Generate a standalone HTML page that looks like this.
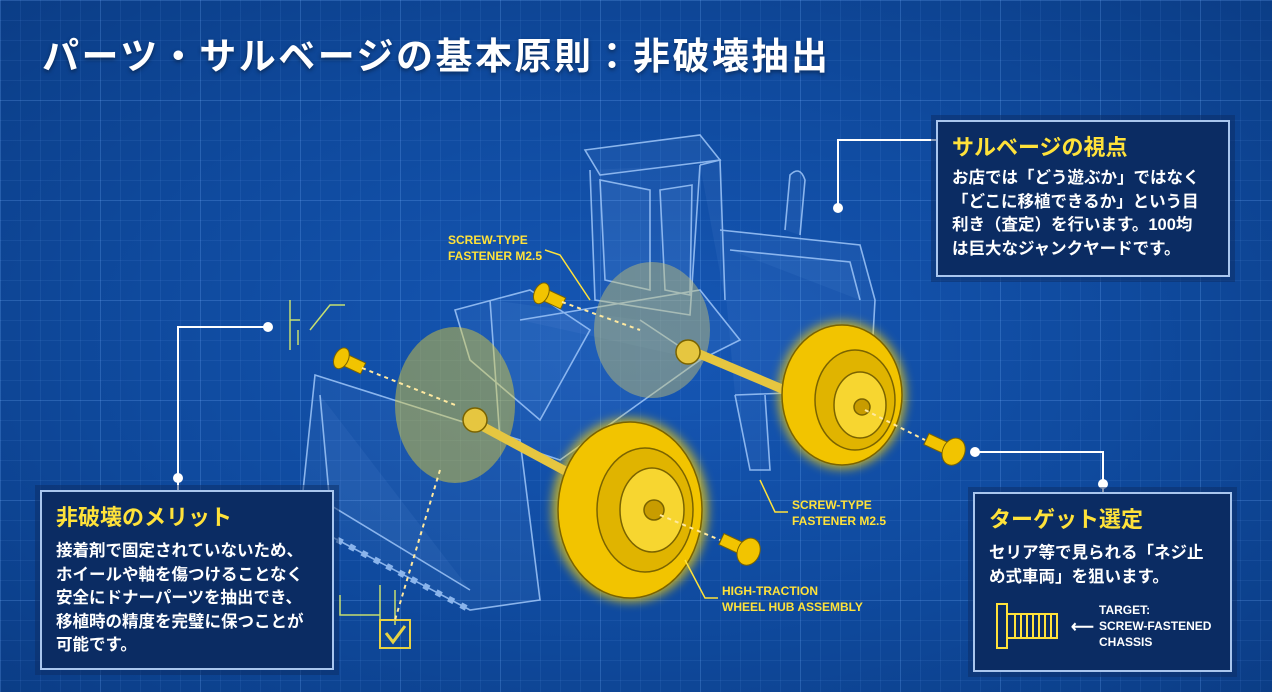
<!DOCTYPE html>
<html><head><meta charset="utf-8"><style>
body{margin:0;width:1272px;height:692px;overflow:hidden;font-family:"Liberation Sans","Noto Sans CJK JP",sans-serif;}
#bg{position:absolute;left:0;top:0;width:1272px;height:692px;
background:
linear-gradient(rgba(120,180,255,.16) 1px,transparent 1px) 0 0/100px 100px,
linear-gradient(90deg,rgba(120,180,255,.16) 1px,transparent 1px) 0 0/100px 100px,
linear-gradient(rgba(120,180,255,.09) 1px,transparent 1px) 0 0/20px 20px,
linear-gradient(90deg,rgba(120,180,255,.09) 1px,transparent 1px) 0 0/20px 20px,
radial-gradient(ellipse at 50% 50%,#1657b5 0%,#0f4a9e 55%,#0b3d86 100%);}
.t{position:absolute;left:42px;top:26px;font-size:37px;font-weight:bold;color:#fff;letter-spacing:2.5px;text-shadow:0 2px 4px rgba(0,0,0,.4);}
.p{position:absolute;background:#0b2c63;border:2px solid #a9c6ee;box-shadow:0 0 0 5px rgba(11,44,99,.5);}
.p h3{margin:0;color:#ffe23a;font-size:22px;font-weight:bold;}
.p div{color:#fff;font-size:16.5px;font-weight:bold;line-height:23.5px;}
.y{position:absolute;color:#ffe23a;font-size:12px;line-height:16px;font-weight:bold;}
</style></head><body>
<div id="bg"></div>
<svg width="1272" height="692" style="position:absolute;left:0;top:0">
<defs><filter id="g"><feGaussianBlur stdDeviation="5"/></filter></defs>
<g stroke="#a9cfff" stroke-width="1.6" fill="rgba(170,210,255,.08)" opacity=".8">
<path d="M585 150 L700 135 L720 160 L600 175 Z"/>
<path d="M590 170 L595 300 L690 315 L700 165"/>
<path d="M600 180 L605 280 L650 290 L650 190 Z"/>
<path d="M660 190 L665 290 L690 295 L692 185 Z"/>
<path d="M700 165 L720 160 L725 300"/>
<path d="M720 230 L860 245 L875 300 L870 390 L735 395"/>
<path d="M730 250 L850 262 L860 300"/>
<path d="M785 230 L790 175 Q800 165 805 180 L800 235" />
<path d="M455 310 L530 290 L590 330 L540 420 L470 360 Z"/>
<path d="M490 300 L500 440 L560 460 L700 360 L640 320"/>
<path d="M520 320 L700 290 L740 340 L700 360"/>
<path d="M735 395 L750 470 L770 470 L765 395"/>
<path d="M315 375 L520 440 L540 600 L470 610 L300 520 Z"/>
<path d="M320 395 L330 505 L470 590"/>
<path d="M300 520 L470 610" stroke-dasharray="6 8" stroke-width="6"/>
</g>
<g fill="none" stroke="#d9ef6a" stroke-width="1.5" opacity=".9">
<path d="M290 300 V350 M290 320 H300 M310 330 L330 305 H345 M298 330 V345"/>
<path d="M340 595 V615 H380 M380 585 V620 M395 590 V625"/>
<rect x="380" y="620" width="30" height="28" stroke="#ffe23a" stroke-width="2"/>
<path d="M386 633 L393 642 L405 626" stroke="#ffe23a" stroke-width="3"/>
</g>
<g opacity=".45"><ellipse cx="455" cy="405" rx="60" ry="78" fill="#e8d230"/>
<ellipse cx="652" cy="330" rx="58" ry="68" fill="#c9c370"/></g>
<g filter="url(#g)" opacity=".7">
<ellipse cx="630" cy="510" rx="78" ry="92" fill="#ffd400"/>
<ellipse cx="842" cy="395" rx="64" ry="74" fill="#ffd400"/></g>
<g stroke="#7a6300" stroke-width="1.5">
<line x1="480" y1="425" x2="610" y2="495" stroke="#e6c640" stroke-width="9"/>
<line x1="690" y1="350" x2="820" y2="405" stroke="#e6c640" stroke-width="9"/>
<ellipse cx="630" cy="510" rx="72" ry="88" fill="#f2c400"/>
<ellipse cx="645" cy="510" rx="48" ry="62" fill="#e0b400"/>
<ellipse cx="652" cy="510" rx="32" ry="42" fill="#f7d630"/>
<circle cx="654" cy="510" r="10" fill="#c89c00"/>
<ellipse cx="842" cy="395" rx="60" ry="70" fill="#f2c400"/>
<ellipse cx="855" cy="400" rx="40" ry="50" fill="#e0b400"/>
<ellipse cx="860" cy="405" rx="26" ry="33" fill="#f7d630"/>
<circle cx="862" cy="407" r="8" fill="#c89c00"/>
<circle cx="475" cy="420" r="12" fill="#e6c640"/>
<circle cx="688" cy="352" r="12" fill="#e6c640"/>
</g>
<g fill="#f2c400" stroke="#7a6300">
<g transform="translate(345,360) rotate(25)"><rect x="-2" y="-6" width="22" height="12"/><ellipse cx="-4" cy="0" rx="7" ry="11"/></g>
<g transform="translate(545,295) rotate(25)"><rect x="-2" y="-6" width="22" height="12"/><ellipse cx="-4" cy="0" rx="7" ry="11"/></g>
<g transform="translate(745,550) rotate(205)"><rect x="-2" y="-6" width="28" height="12"/><ellipse cx="-4" cy="0" rx="11" ry="14"/></g>
<g transform="translate(950,450) rotate(205)"><rect x="-2" y="-6" width="28" height="12"/><ellipse cx="-4" cy="0" rx="11" ry="14"/></g>
</g>
<g stroke="#ffe9a0" stroke-width="2" stroke-dasharray="4 4" fill="none">
<line x1="362" y1="368" x2="455" y2="405"/><line x1="562" y1="302" x2="640" y2="330"/>
<line x1="660" y1="515" x2="720" y2="540"/><line x1="865" y1="410" x2="925" y2="440"/>
<line x1="440" y1="470" x2="395" y2="620"/>
</g>
<g stroke="#ffe23a" stroke-width="1.5" fill="none">
<path d="M545 250 L560 255 L590 300"/><path d="M788 512 L775 512 L760 480"/>
<path d="M718 598 L705 598 L685 560"/>
</g>
<g stroke="#fff" stroke-width="2" fill="none">
<path d="M838 208 V140 H936"/><path d="M268 327 H178 V490"/><path d="M975 452 H1103 V492"/>
</g>
<g fill="#fff"><circle cx="838" cy="208" r="5"/><circle cx="268" cy="327" r="5"/><circle cx="975" cy="452" r="5"/><circle cx="178" cy="478" r="5"/><circle cx="1103" cy="484" r="5"/></g>
</svg>
<div class="t">パーツ・サルベージの基本原則：非破壊抽出</div>
<div class="y" style="left:448px;top:232px">SCREW-TYPE<br>FASTENER M2.5</div>
<div class="y" style="left:792px;top:497px">SCREW-TYPE<br>FASTENER M2.5</div>
<div class="y" style="left:722px;top:583px">HIGH-TRACTION<br>WHEEL HUB ASSEMBLY</div>
<div class="p" style="left:936px;top:120px;width:276px;height:145px;padding:8px 0 0 14px">
<h3>サルベージの視点</h3>
<div style="margin-top:5px">お店では「どう遊ぶか」ではなく<br>「どこに移植できるか」という目<br>利き（査定）を行います。100均<br>は巨大なジャンクヤードです。</div></div>
<div class="p" style="left:40px;top:490px;width:276px;height:168px;padding:8px 0 0 14px">
<h3>非破壊のメリット</h3>
<div style="margin-top:8px">接着剤で固定されていないため、<br>ホイールや軸を傷つけることなく<br>安全にドナーパーツを抽出でき、<br>移植時の精度を完璧に保つことが<br>可能です。</div></div>
<div class="p" style="left:973px;top:492px;width:241px;height:168px;padding:8px 0 0 14px">
<h3>ターゲット選定</h3>
<div style="margin-top:8px">セリア等で見られる「ネジ止<br>め式車両」を狙います。</div>
<svg width="70" height="50" style="position:absolute;left:20px;top:108px"><g fill="none" stroke="#ffe23a" stroke-width="2"><rect x="2" y="2" width="10" height="44"/><rect x="12" y="12" width="50" height="24"/><path d="M20 12v24M26 12v24M32 12v24M38 12v24M44 12v24M50 12v24M56 12v24"/></g></svg>
<div class="y" style="left:96px;top:122px;font-size:16px">⟵</div>
<div class="y" style="left:124px;top:108px;font-size:12px;line-height:16px">TARGET:<br>SCREW-FASTENED<br>CHASSIS</div>
</div>
</body></html>
